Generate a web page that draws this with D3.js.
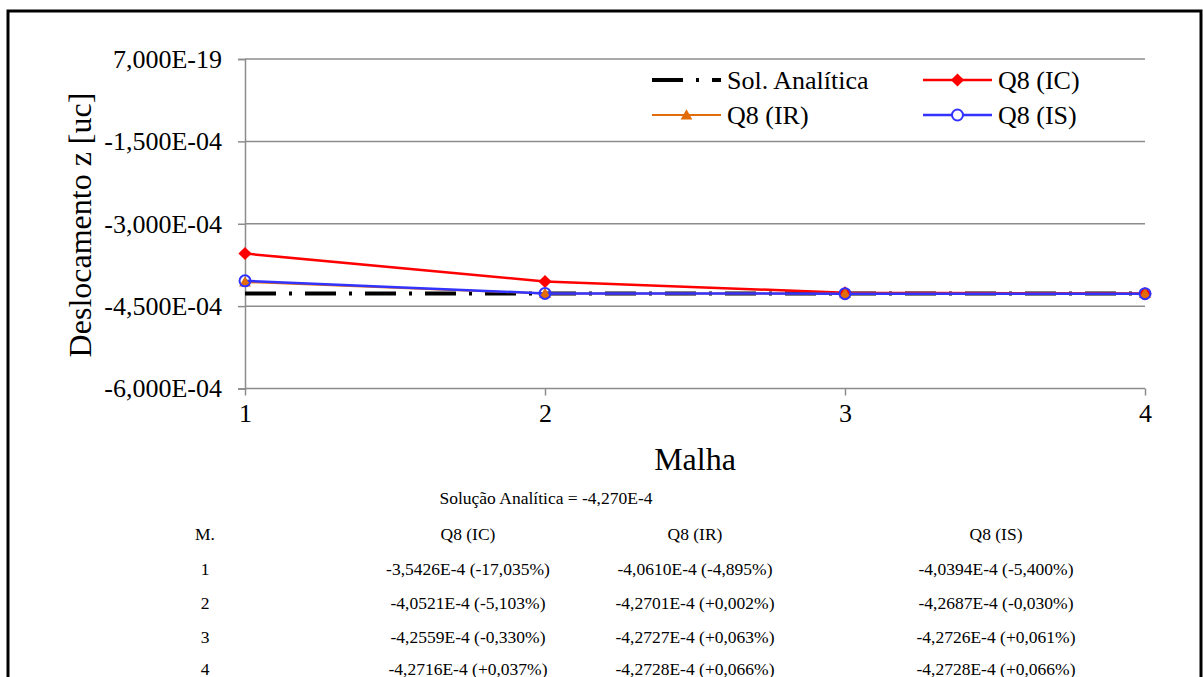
<!DOCTYPE html>
<html>
<head>
<meta charset="utf-8">
<script src="https://cdn.jsdelivr.net/npm/d3@7"></script>
<style>
  html, body { margin: 0; padding: 0; background: #fff; }
  svg { display: block; }
  svg text { font-family: "Liberation Serif", "Times New Roman", serif; }
</style>
</head>
<body>
<svg id="chart" width="1203" height="677"></svg>
<script>
// Mesh refinement levels
const meshes = ["1", "2", "3", "4"];

// Vertical displacement z [uc] for each integration scheme
const analytical = -4.270e-4;
const q8IC = [-3.5426e-4, -4.0521e-4, -4.2559e-4, -4.2716e-4];
const q8IR = [-4.0610e-4, -4.2701e-4, -4.2727e-4, -4.2728e-4];
const q8IS = [-4.0394e-4, -4.2687e-4, -4.2726e-4, -4.2728e-4];

// Relative errors against the analytical solution (%)
const errIC = ["-17,035%", "-5,103%", "-0,330%", "+0,037%"];
const errIR = ["-4,895%", "+0,002%", "+0,063%", "+0,066%"];
const errIS = ["-5,400%", "-0,030%", "+0,061%", "+0,066%"];

// Y axis ticks and their printed labels
const yTicks = [7e-19, -1.5e-4, -3.0e-4, -4.5e-4, -6.0e-4];
const yTickLabels = ["7,000E-19", "-1,500E-04", "-3,000E-04", "-4,500E-04", "-6,000E-04"];

const serif = "'Liberation Serif', 'Times New Roman', serif";
const svg = d3.select("#chart");

// Frame around the figure
svg.append("rect")
  .attr("x", 8).attr("y", 11)
  .attr("width", 1193).attr("height", 700)
  .attr("fill", "none").attr("stroke", "#000").attr("stroke-width", 3);

const x = d3.scalePoint().domain(meshes).range([245, 1145]);
const y = d3.scaleLinear().domain([-6e-4, 7e-19]).range([388.5, 59]);

const gridColor = "#8c8c8c";

// Horizontal gridlines
svg.append("g").selectAll("line").data(yTicks).join("line")
  .attr("x1", 245).attr("x2", 1145)
  .attr("y1", d => y(d)).attr("y2", d => y(d))
  .attr("stroke", gridColor).attr("stroke-width", 1.5);

// Y axis
const yAxis = d3.axisLeft(y)
  .tickValues(yTicks)
  .tickFormat((d, i) => yTickLabels[i])
  .tickSize(7).tickPadding(16);
const gy = svg.append("g").attr("transform", "translate(245,0)").call(yAxis)
  .attr("font-family", serif).attr("font-size", 26);
gy.select(".domain").attr("stroke", gridColor).attr("stroke-width", 1.5);
gy.selectAll(".tick line").attr("stroke", gridColor).attr("stroke-width", 1.5);
gy.selectAll(".tick text").style("font-family", serif).attr("fill", "#000");

// X axis
const xAxis = d3.axisBottom(x).tickSize(7).tickPadding(8);
const gx = svg.append("g").attr("transform", "translate(0,388.5)").call(xAxis)
  .attr("font-family", serif).attr("font-size", 26);
gx.select(".domain").remove();
gx.selectAll(".tick line").attr("stroke", gridColor).attr("stroke-width", 1.5);
gx.selectAll(".tick text").style("font-family", serif).attr("fill", "#000");

// Axis titles
svg.append("text")
  .attr("transform", "translate(91,225) rotate(-90)")
  .attr("text-anchor", "middle")
  .style("font-family", serif)
  .attr("font-size", 32).text("Deslocamento z [uc]");
svg.append("text")
  .attr("x", 695).attr("y", 470)
  .attr("text-anchor", "middle")
  .style("font-family", serif)
  .attr("font-size", 32).text("Malha");

// Series definitions
const analyticalDash = "31,13,3,13";
const series = [
  { name: "Sol. Analítica", values: meshes.map(() => analytical), color: "#000", width: 4, dash: analyticalDash, marker: null },
  { name: "Q8 (IC)", values: q8IC, color: "#ff0000", width: 2.5, dash: null, marker: "diamond" },
  { name: "Q8 (IR)", values: q8IR, color: "#e36c0a", width: 2, dash: null, marker: "triangle" },
  { name: "Q8 (IS)", values: q8IS, color: "#3333ff", width: 2.5, dash: null, marker: "circle" }
];

const line = d3.line().x((d, i) => x(meshes[i])).y(d => y(d));

function drawMarker(g, type, color, cx, cy, legend) {
  if (type === "diamond") {
    g.append("path")
      .attr("d", d3.symbol().type(d3.symbolDiamond2).size(110)())
      .attr("transform", `translate(${cx},${cy})`)
      .attr("fill", color);
  } else if (type === "triangle") {
    g.append("path")
      .attr("d", d3.symbol().type(d3.symbolTriangle).size(60)())
      .attr("transform", `translate(${cx},${cy + 1})`)
      .attr("fill", color);
  } else if (type === "circle") {
    g.append("circle")
      .attr("cx", cx).attr("cy", cy).attr("r", 5.5)
      .attr("fill", legend ? "#fff" : "none")
      .attr("stroke", color).attr("stroke-width", 2);
  }
}

const plot = svg.append("g");
series.forEach(s => {
  plot.append("path")
    .datum(s.values)
    .attr("d", line)
    .attr("fill", "none")
    .attr("stroke", s.color)
    .attr("stroke-width", s.width)
    .attr("stroke-dasharray", s.dash);
});
series.forEach(s => {
  if (!s.marker) return;
  const mg = plot.append("g");
  s.values.forEach((v, i) => drawMarker(mg, s.marker, s.color, x(meshes[i]), y(v), false));
});

// Legend (two columns, two rows)
const legendPos = [
  { lx: 652, ly: 80 }, { lx: 923, ly: 80 },
  { lx: 652, ly: 115 }, { lx: 923, ly: 115 }
];
const legend = svg.append("g");
series.forEach((s, i) => {
  const p = legendPos[i];
  legend.append("line")
    .attr("x1", p.lx).attr("x2", p.lx + 69)
    .attr("y1", p.ly).attr("y2", p.ly)
    .attr("stroke", s.color).attr("stroke-width", s.width)
    .attr("stroke-dasharray", s.dash);
  if (s.marker) drawMarker(legend, s.marker, s.color, p.lx + 34.5, p.ly, true);
  legend.append("text")
    .attr("x", p.lx + 75).attr("y", p.ly + 9)
    .style("font-family", serif)
    .attr("font-size", 26).text(s.name);
});

// Data table under the chart
const fmtNum = (v, digits) => d3.format("." + digits + "f")(v * 1e4).replace("−", "-").replace(".", ",") + "E-4";
const table = svg.append("g")
  .attr("font-size", 17.5).attr("text-anchor", "middle")
  .style("font-family", serif);
table.append("text").attr("x", 546).attr("y", 504)
  .text("Solução Analítica = " + fmtNum(analytical, 3));

const colX = [205, 468, 695, 996];
const header = ["M.", "Q8 (IC)", "Q8 (IR)", "Q8 (IS)"];
header.forEach((h, i) => table.append("text").attr("x", colX[i]).attr("y", 540).text(h));

const rowY = [575, 609, 643, 675];
meshes.forEach((m, r) => {
  table.append("text").attr("x", colX[0]).attr("y", rowY[r]).text(m);
  table.append("text").attr("x", colX[1]).attr("y", rowY[r]).text(`${fmtNum(q8IC[r], 4)} (${errIC[r]})`);
  table.append("text").attr("x", colX[2]).attr("y", rowY[r]).text(`${fmtNum(q8IR[r], 4)} (${errIR[r]})`);
  table.append("text").attr("x", colX[3]).attr("y", rowY[r]).text(`${fmtNum(q8IS[r], 4)} (${errIS[r]})`);
});
</script>
</body>
</html>
